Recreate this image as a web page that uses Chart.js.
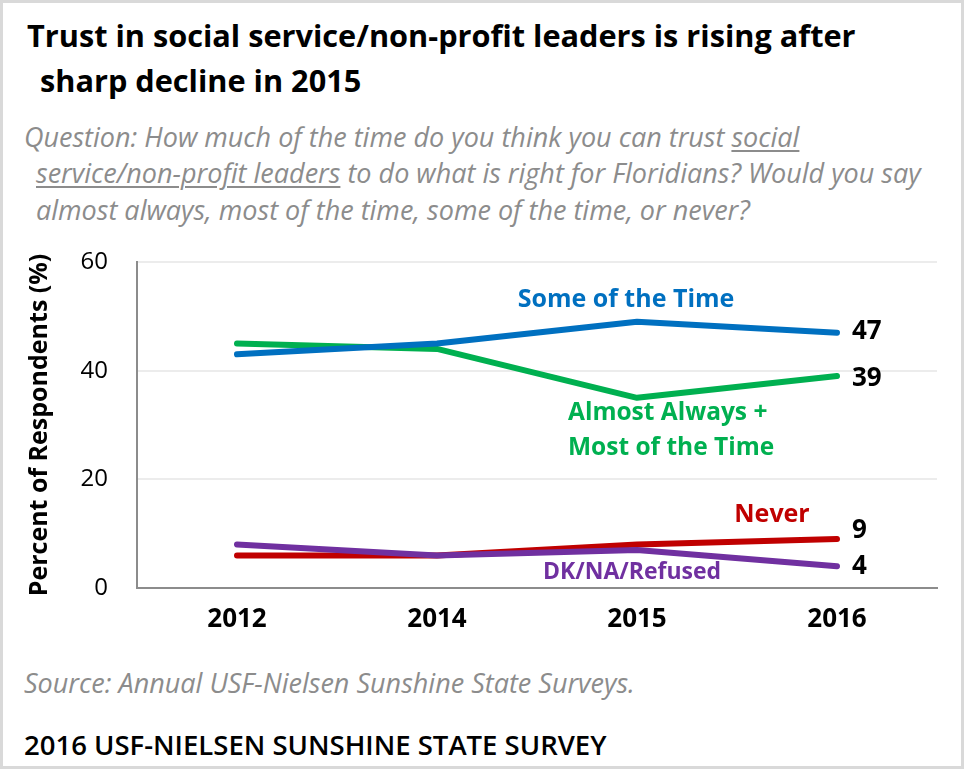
<!DOCTYPE html>
<html>
<head>
<meta charset="utf-8">
<script src="https://cdn.jsdelivr.net/npm/chart.js@4.4.0/dist/chart.umd.min.js"></script>
<style>
    body { margin: 0; background: #fff; }
    #quadro {
        position: relative; width: 964px; height: 769px; overflow: hidden;
        background: #fff; box-shadow: inset 0 0 0 3px #d9d9d9;
        font-family: "Open Sans", sans-serif;
    }
    .linha { position: absolute; white-space: nowrap; line-height: 40px; }
    .titulo { font-weight: bold; font-size: 30.7px; color: #000; }
    .pergunta { font-style: italic; font-size: 27px; color: #8c8c8c; }
    .pergunta u { text-decoration-thickness: 2px; text-underline-offset: 3px; }
    .rodape { font-size: 27.5px; font-weight: 600; color: #000; }
    #grafico { position: absolute; left: 0; top: 240px; }
</style>
</head>
<body>
<div id="quadro">
    <div class="linha titulo" style="left:27px; top:15px;">Trust in social service/non-profit leaders is rising after</div>
    <div class="linha titulo" style="left:40px; top:60px;">sharp decline in 2015</div>

    <div class="linha pergunta" style="left:24px; top:117px;">Question: How much of the time do you think you can trust <u>social</u></div>
    <div class="linha pergunta" style="left:36px; top:153px;"><u>service/non-profit leaders</u> to do what is right for Floridians? Would you say</div>
    <div class="linha pergunta" style="left:36px; top:190px;">almost always, most of the time, some of the time, or never?</div>

    <canvas id="grafico" width="964" height="420"></canvas>

    <div class="linha pergunta" style="left:24px; top:663px;">Source: Annual USF-Nielsen Sunshine State Surveys.</div>
    <div class="linha rodape" style="left:24px; top:725px;">2016 USF-NIELSEN SUNSHINE STATE SURVEY</div>
</div>

<script>
// Dados da pesquisa (%)
const anos = ['2012', '2014', '2015', '2016'];
const algumasVezes = [43, 45, 49, 47];      // Some of the Time
const quaseSempre = [45, 44, 35, 39];       // Almost Always + Most of the Time
const nunca = [6, 6, 8, 9];                 // Never
const naoSabe = [8, 6, 7, 4];               // DK/NA/Refused
const ticksY = [0, 20, 40, 60];

const nomesSeries = ['Some of the Time', 'Almost Always +\nMost of the Time', 'Never', 'DK/NA/Refused'];

const AZUL = '#0070c0';
const VERDE = '#00b050';
const VERMELHO = '#c00000';
const ROXO = '#7030a0';
const FONTE = '"Open Sans", sans-serif';

// Plugin para escrever os nomes das séries e os valores de 2016
const rotulosPlugin = {
    id: 'rotulos',
    afterDatasetsDraw(chart) {
        const ctx = chart.ctx;
        const x = chart.scales.x;
        const y = chart.scales.y;
        const ult = anos.length - 1;
        const xFim = x.getPixelForValue(ult) + 15;

        ctx.save();
        ctx.textBaseline = 'middle';

        // valores finais
        ctx.font = 'bold 26px ' + FONTE;
        ctx.fillStyle = '#000';
        ctx.textAlign = 'left';
        ctx.fillText(String(algumasVezes[ult]), xFim, y.getPixelForValue(algumasVezes[ult]) - 1);
        ctx.fillText(String(quaseSempre[ult]), xFim, y.getPixelForValue(quaseSempre[ult]) + 2);
        ctx.fillText(String(nunca[ult]), xFim, y.getPixelForValue(nunca[ult]) - 9);
        ctx.fillText(String(naoSabe[ult]), xFim, y.getPixelForValue(naoSabe[ult]));

        // nomes das séries
        ctx.font = 'bold 25px ' + FONTE;
        ctx.textAlign = 'center';
        ctx.fillStyle = AZUL;
        ctx.fillText(nomesSeries[0], x.getPixelForValue(2) - 11, y.getPixelForValue(53));

        ctx.font = 'bold 24.5px ' + FONTE;
        ctx.textAlign = 'left';
        ctx.fillStyle = VERDE;
        const linhasVerde = nomesSeries[1].split('\n');
        ctx.fillText(linhasVerde[0], x.getPixelForValue(2) - 69, y.getPixelForValue(32.2));
        ctx.fillText(linhasVerde[1], x.getPixelForValue(2) - 69, y.getPixelForValue(25.8));

        ctx.font = 'bold 25px ' + FONTE;
        ctx.textAlign = 'center';
        ctx.fillStyle = VERMELHO;
        ctx.fillText(nomesSeries[2], x.getPixelForValue(ult) - 65, y.getPixelForValue(13.4));

        ctx.font = 'bold 23px ' + FONTE;
        ctx.fillStyle = ROXO;
        ctx.fillText(nomesSeries[3], x.getPixelForValue(2) - 5, y.getPixelForValue(2.9));

        ctx.restore();
    }
};

function serie(dados, cor, ordem) {
    return {
        data: dados,
        borderColor: cor,
        backgroundColor: cor,
        borderWidth: 6,
        borderCapStyle: 'round',
        borderJoinStyle: 'round',
        pointRadius: 0,
        pointHoverRadius: 0,
        tension: 0,
        order: ordem
    };
}

const ctx = document.getElementById('grafico').getContext('2d');
const graficoConfianca = new Chart(ctx, {
    type: 'line',
    data: {
        labels: anos,
        datasets: [
            serie(algumasVezes, AZUL, 1),
            serie(quaseSempre, VERDE, 2),
            serie(naoSabe, ROXO, 3),
            serie(nunca, VERMELHO, 4)
        ]
    },
    options: {
        responsive: false,
        animation: false,
        layout: { padding: { top: 22, right: 27, bottom: 0, left: 0 } },
        plugins: {
            legend: { display: false },
            tooltip: { enabled: false }
        },
        scales: {
            x: {
                offset: true,
                afterFit(scale) { scale.height = 72; },
                grid: { display: false, drawTicks: false },
                border: { display: true, color: '#8c8c8c', width: 2 },
                ticks: {
                    padding: 16,
                    color: '#000',
                    font: { family: FONTE, size: 26, weight: 'bold' }
                }
            },
            y: {
                min: 0,
                max: 60,
                afterFit(scale) {
                    scale.width = 137;
                    // sem folga extra em cima/embaixo por causa dos rótulos
                    scale.paddingTop = 0;
                    scale.paddingBottom = 0;
                },
                afterBuildTicks(scale) { scale.ticks = ticksY.map(v => ({ value: v })); },
                grid: { color: '#ececec', lineWidth: 2, drawTicks: false },
                border: { display: true, color: '#8c8c8c', width: 2 },
                ticks: {
                    padding: 29,
                    color: '#000',
                    font: { family: FONTE, size: 24 }
                },
                title: {
                    display: true,
                    text: 'Percent of Respondents (%)',
                    color: '#000',
                    font: { family: FONTE, size: 25, weight: 'bold' },
                    padding: { top: 25, bottom: 0 }
                }
            }
        }
    },
    plugins: [rotulosPlugin]
});
</script>
</body>
</html>
